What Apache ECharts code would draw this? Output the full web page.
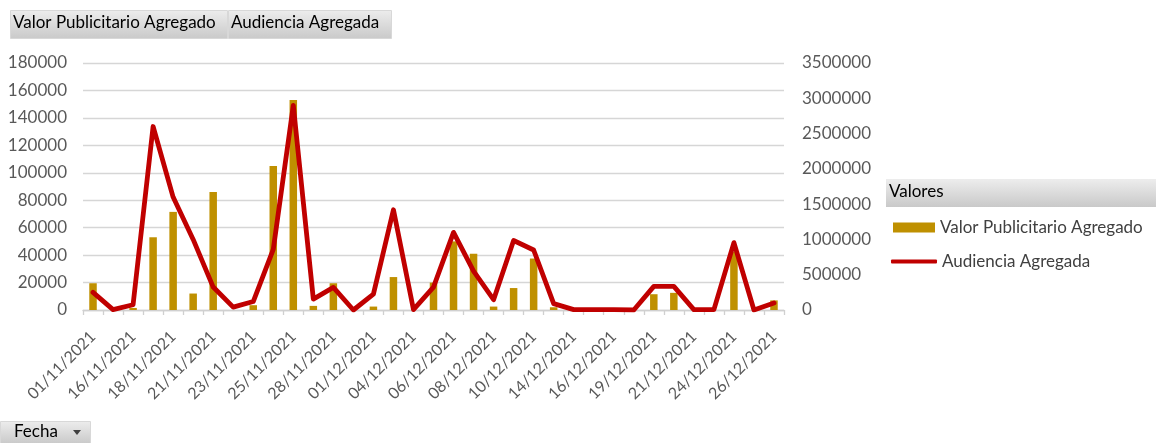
<!DOCTYPE html>
<html>
<head>
<meta charset="utf-8">
<script src="https://cdn.jsdelivr.net/npm/echarts@6/dist/echarts.min.js"></script>
<style>
html,body{margin:0;padding:0;background:#fff;}
#chart{width:1156px;height:443px;}
</style>
</head>
<body>
<div id="chart"></div>
<script>
const categories = [
  '01/11/2021','15/11/2021','16/11/2021','17/11/2021','18/11/2021','19/11/2021',
  '21/11/2021','22/11/2021','23/11/2021','24/11/2021','25/11/2021','26/11/2021',
  '28/11/2021','29/11/2021','01/12/2021','02/12/2021','04/12/2021','05/12/2021',
  '06/12/2021','07/12/2021','08/12/2021','09/12/2021','10/12/2021','13/12/2021',
  '14/12/2021','15/12/2021','16/12/2021','17/12/2021','19/12/2021','20/12/2021',
  '21/12/2021','22/12/2021','24/12/2021','25/12/2021','26/12/2021'
];
const valorPublicitario = [
  19500, 0, 1500, 53000, 71500, 12000,
  86000, 0, 3500, 105000, 153000, 3000,
  19500, 0, 2500, 24000, 0, 20000,
  50000, 41000, 2500, 16000, 37500, 2000,
  0, 0, 0, 0, 11500, 12500,
  0, 0, 42500, 0, 7000
];
const audiencia = [
  250000, 5000, 75000, 2600000, 1600000, 1000000,
  325000, 40000, 120000, 860000, 2900000, 155000,
  320000, 0, 225000, 1420000, 5000, 325000,
  1100000, 550000, 146000, 985000, 850000, 90000,
  5000, 5000, 5000, 0, 335000, 335000,
  5000, 5000, 955000, 0, 100000
];
const seriesNames = ['Valor Publicitario Agregado', 'Audiencia Agregada'];
const legendTitle = 'Valores';
const axisFieldName = 'Fecha';

const FONT = 'Lato';
const grayGrad = {type:'linear',x:0,y:0,x2:0,y2:1,colorStops:[{offset:0,color:'#ededed'},{offset:1,color:'#c9c9c9'}]};
const plain = v => String(v);

const chart = echarts.init(document.getElementById('chart'), null, {renderer:'canvas'});
chart.setOption({
  animation: false,
  backgroundColor: '#ffffff',
  textStyle: {fontFamily: FONT},
  grid: {left: 83, right: 372, top: 63, bottom: 133, containLabel: false},
  legend: [
    {
      data: [{name: seriesNames[0], icon: 'rect'}],
      left: 893, top: 219, padding: 0, itemWidth: 42, itemHeight: 10, itemGap: 0,
      textStyle: {fontFamily: FONT, fontSize: 17, color: '#404040'}
    },
    {
      data: [{name: seriesNames[1], icon: 'roundRect'}],
      left: 891, top: 253, padding: 0, itemWidth: 46, itemHeight: 4, itemGap: 0,
      textStyle: {fontFamily: FONT, fontSize: 17, color: '#404040'}
    }
  ],
  xAxis: {
    type: 'category',
    data: categories,
    boundaryGap: true,
    axisLine: {lineStyle: {color: '#d0d0d0', width: 1.3}},
    axisTick: {show: true, interval: 0, length: 5, lineStyle: {color: '#d0d0d0', width: 1.3}},
    axisLabel: {interval: 1, rotate: 45, fontFamily: FONT, fontSize: 16, color: '#595959', margin: 24}
  },
  yAxis: [
    {
      type: 'value', min: 0, max: 180000, interval: 20000,
      axisLine: {show: false}, axisTick: {show: false},
      axisLabel: {fontFamily: FONT, fontSize: 17, color: '#595959', margin: 16, formatter: plain},
      splitLine: {lineStyle: {color: '#d6d6d6', width: 1.3}}
    },
    {
      type: 'value', min: 0, max: 3500000, interval: 500000, position: 'right',
      axisLine: {show: false}, axisTick: {show: false},
      axisLabel: {fontFamily: FONT, fontSize: 17, color: '#595959', margin: 18, formatter: plain},
      splitLine: {show: false}
    }
  ],
  series: [
    {
      name: seriesNames[0], type: 'bar', yAxisIndex: 0, data: valorPublicitario,
      barWidth: 7.5, itemStyle: {color: '#BF9000'}
    },
    {
      name: seriesNames[1], type: 'line', yAxisIndex: 1, data: audiencia,
      symbol: 'none', lineStyle: {color: '#C00000', width: 4.8, join: 'round', cap: 'round'},
      itemStyle: {color: '#C00000'}
    }
  ],
  graphic: [
    {type:'rect', left: 10, top: 10, shape:{width:217, height:28}, style:{fill: grayGrad, stroke:'#d8d8d8', lineWidth:1}, z: 1},
    {type:'text', left: 13, top: 14, style:{text: seriesNames[0], font: '17px ' + FONT, fill:'#000'}, z: 2},
    {type:'rect', left: 228, top: 10, shape:{width:163, height:28}, style:{fill: grayGrad, stroke:'#d8d8d8', lineWidth:1}, z: 1},
    {type:'text', left: 231, top: 14, style:{text: seriesNames[1], font: '17px ' + FONT, fill:'#000'}, z: 2},
    {type:'rect', left: 886, top: 179, shape:{width:270, height:28}, style:{fill: grayGrad}, z: 1},
    {type:'text', left: 889, top: 183, style:{text: legendTitle, font: '17px ' + FONT, fill:'#000'}, z: 2},
    {type:'rect', left: 0, top: 421, shape:{width:90, height:22}, style:{fill: grayGrad, stroke:'#d8d8d8', lineWidth:1}, z: 1},
    {type:'text', left: 14, top: 423, style:{text: axisFieldName, font: '17px ' + FONT, fill:'#000'}, z: 2},
    {type:'polygon', shape:{points:[[73,430],[81,430],[77,435]]}, style:{fill:'#404040'}, z: 2}
  ]
});
</script>
</body>
</html>
